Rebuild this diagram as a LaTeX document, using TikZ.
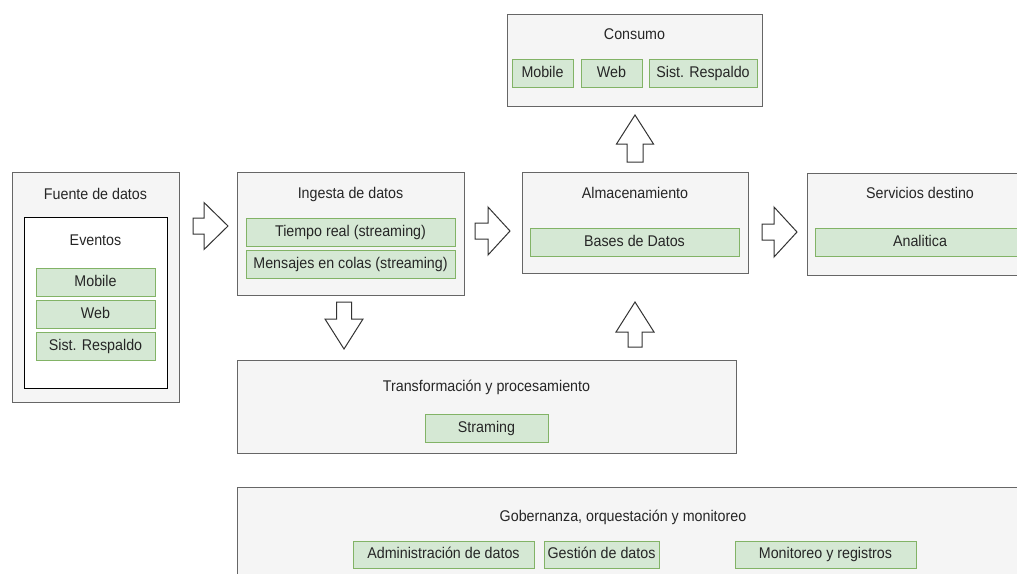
\documentclass[tikz,border=0pt]{standalone}
\usepackage{fontspec}
\setmainfont{Liberation Sans}[FakeStretch=0.92]
\usetikzlibrary{positioning}

\definecolor{panelfill}{HTML}{F5F5F5}
\definecolor{panelline}{HTML}{666666}
\definecolor{itemfill}{HTML}{D5E8D4}
\definecolor{itemline}{HTML}{82B366}
\definecolor{inktext}{HTML}{262626}

\tikzset{
  panel/.style={draw=panelline, fill=panelfill, line width=1pt, rectangle, inner sep=0pt},
  item/.style={draw=itemline, fill=itemfill, line width=1pt, rectangle, inner sep=0pt,
               text=inktext, font=\fontsize{15.5}{17}\selectfont,
               text height=11.3pt, text depth=3.3pt},
  label/.style={text=inktext, font=\fontsize{15.5}{17}\selectfont, inner sep=0pt,
               text height=11.3pt, text depth=3.3pt},
  bigarrow/.style={draw=black!80, fill=white, line width=1pt, line join=miter}
}

% box from pixel corners (x1,y1)-(x2,y2)
\newcommand{\pbox}[6]{%
  \node[#1, minimum width={(#4-#2)*1pt}, minimum height={(#5-#3)*1pt}]
    (#6) at ({(#2+#4)/2},{(#3+#5)/2}) {};}
\newcommand{\gbox}[6]{%
  \node[item, minimum width={(#3-#1)*1pt}, minimum height={(#4-#2)*1pt}]
    (#5) at ({(#1+#3)/2},{(#2+#4)/2}) {#6};}
% horizontal block arrow: tail x, head base x, tip x, centre y, shaft half, head half
\newcommand{\harrow}[6]{%
  \draw[bigarrow] (#1,#4-#5) -- (#2,#4-#5) -- (#2,#4-#6) -- (#3,#4)
    -- (#2,#4+#6) -- (#2,#4+#5) -- (#1,#4+#5) -- cycle;}
% vertical block arrow: tail y, head base y, tip y, centre x, shaft half, head half
\newcommand{\varrow}[6]{%
  \draw[bigarrow] (#4-#5,#1) -- (#4-#5,#2) -- (#4-#6,#2) -- (#4,#3)
    -- (#4+#6,#2) -- (#4+#5,#2) -- (#4+#5,#1) -- cycle;}

\begin{document}
\begin{tikzpicture}[x=1pt, y=-1pt]
\useasboundingbox (0,0) rectangle (1017,573);
\fill[white] (0,0) rectangle (1017,573);
\clip (0,0) rectangle (1017,573);

% ---- Fuente de datos ----
\pbox{panel}{12}{172}{179}{402}{fuente}
\node[label] (fuenteT) at (95.5,195) {Fuente de datos};
\pbox{draw=black, fill=white, line width=1pt, inner sep=0pt}{24}{217}{167}{388}{eventos}
\node[label] (eventosT) at (95.5,241) {Eventos};
\gbox{36}{268}{155}{296}{srcMobile}{Mobile}
\gbox{36}{300}{155}{328}{srcWeb}{Web}
\gbox{36}{332}{155}{360}{srcResp}{Sist. Respaldo}

% ---- Ingesta de datos ----
\pbox{panel}{237}{172}{464}{295}{ingesta}
\node[label] (ingestaT) at (350.5,194) {Ingesta de datos};
\gbox{246}{218}{455}{246}{tiempoReal}{Tiempo real (streaming)}
\gbox{246}{250}{455}{278}{colas}{Mensajes en colas (streaming)}

% ---- Almacenamiento ----
\pbox{panel}{522}{172}{748}{273}{almac}
\node[label] (almacT) at (635,194) {Almacenamiento};
\gbox{530}{228}{739}{256}{bases}{Bases de Datos}

% ---- Servicios destino ----
\pbox{panel}{807}{173}{1033}{275}{servicios}
\node[label] (serviciosT) at (920,194) {Servicios destino};
\gbox{815}{228}{1025}{256}{analitica}{Analitica}

% ---- Consumo ----
\pbox{panel}{507}{14}{762}{106}{consumo}
\node[label] (consumoT) at (634.5,35) {Consumo};
\gbox{512}{59}{573}{87}{conMobile}{Mobile}
\gbox{581}{59}{642}{87}{conWeb}{Web}
\gbox{649}{59}{757}{87}{conResp}{Sist. Respaldo}

% ---- Transformación y procesamiento ----
\pbox{panel}{237}{360}{736}{453}{transf}
\node[label] (transfT) at (486.5,387) {Transformación y procesamiento};
\gbox{425}{414}{548}{442}{straming}{Straming}

% ---- Gobernanza ----
\pbox{panel}{237}{487}{1030}{600}{gobierno}
\node[label] (gobiernoT) at (623,517) {Gobernanza, orquestación y monitoreo};
\gbox{353}{541}{534}{568}{admin}{Administración de datos}
\gbox{544}{541}{659}{568}{gestion}{Gestión de datos}
\gbox{735}{541}{916}{568}{monitoreo}{Monitoreo y registros}

% ---- block arrows between the stages ----
\harrow{193}{204}{228}{226}{8}{23.5}
\harrow{475}{488}{510}{231}{8}{24}
\harrow{762}{774}{797}{232}{8}{25}
\varrow{302}{319}{349}{344}{7.5}{19}
\varrow{347}{332}{302}{635}{7}{19}
\varrow{162}{144}{115}{635}{8}{18.5}
\end{tikzpicture}
\end{document}
